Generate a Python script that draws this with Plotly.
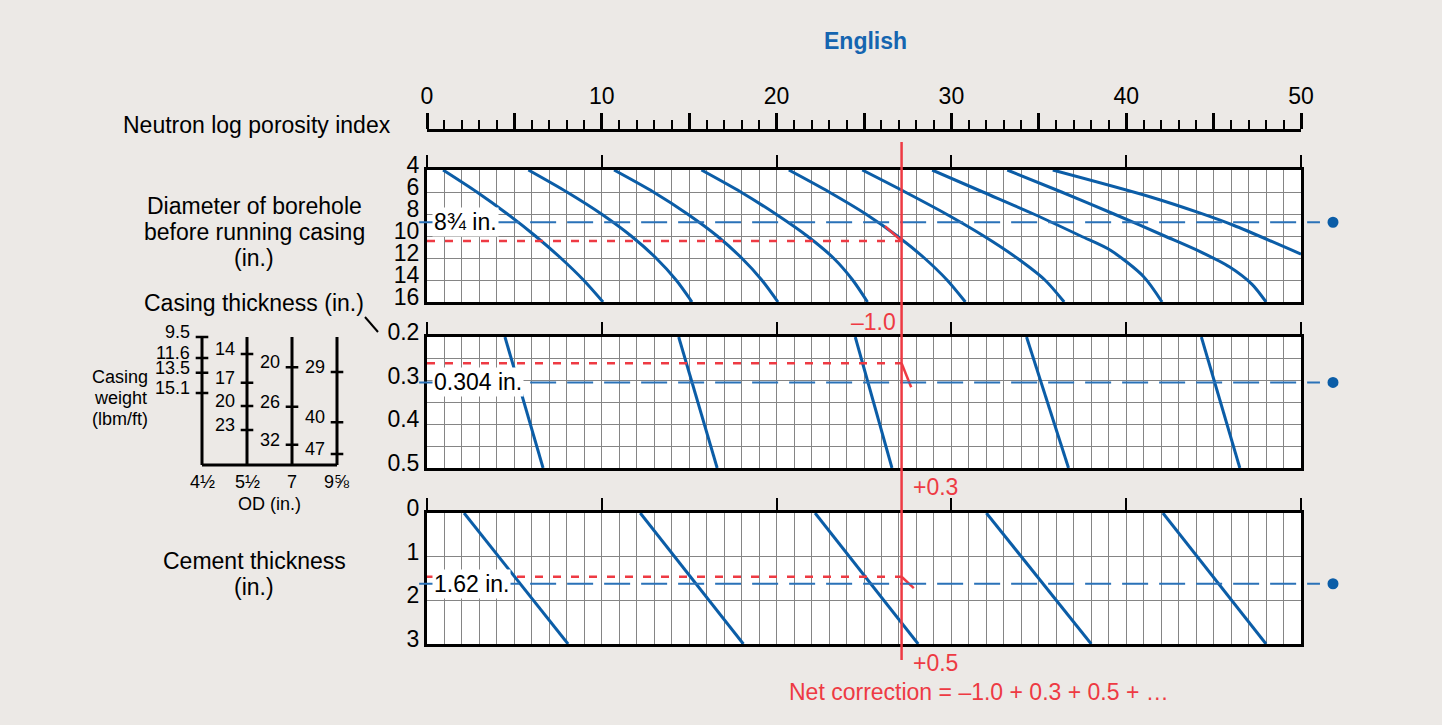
import plotly.graph_objects as go

# ---------------- data ----------------
top_tickvals = [0, 5, 10, 15, 20, 25, 30, 35, 40, 45, 50]
top_ticktext = ['0', '', '10', '', '20', '', '30', '', '40', '', '50']

diameter_ticks = [4, 6, 8, 10, 12, 14, 16]
thickness_ticks = [0.2, 0.25, 0.3, 0.35, 0.4, 0.45, 0.5]
thickness_text = ['0.2', '', '0.3', '', '0.4', '', '0.5']
cement_ticks = [0, 1, 2, 3]

# borehole-diameter chart: porosity index (x) vs borehole diameter in. (y)
bh_x = [
    [0.92, 2.85, 4.6, 6.2, 7.65, 8.95, 10.07],
    [5.8, 8.0, 9.98, 11.68, 13.1, 14.25, 15.16],
    [10.7, 12.95, 14.9, 16.6, 18.0, 19.15, 20.08],
    [15.7, 17.95, 19.95, 21.75, 23.25, 24.35, 25.2],
    [20.7, 23.0, 25.1, 26.9, 28.45, 29.75, 30.8],
    [24.9, 27.35, 29.7, 31.85, 33.75, 35.35, 36.45],
    [28.9, 31.8, 34.7, 37.4, 39.1, 41.0, 42.05],
    [33.2, 36.3, 39.3, 42.2, 44.2, 45.9, 47.2, 48.0],
    [35.8, 41.4, 44.2, 46.1, 50.0],
]
bh_y = [
    [4, 6, 8, 10, 12, 14, 16],
    [4, 6, 8, 10, 12, 14, 16],
    [4, 6, 8, 10, 12, 14, 16],
    [4, 6, 8, 10, 12, 14, 16],
    [4, 6, 8, 10, 12, 14, 16],
    [4, 6, 8, 10, 12, 14, 16],
    [4, 6, 8, 10, 11.3, 13.7, 16],
    [4, 6, 8, 10, 11.4, 12.8, 14.4, 16],
    [4, 6.45, 7.9, 9.0, 11.65],
]

# casing-thickness chart: porosity at 0.2 in. (top) and 0.5 in. (bottom)
thk_top_x = [4.46, 14.4, 24.5, 34.3, 44.3]
thk_bot_x = [6.64, 16.6, 26.6, 36.7, 46.5]
thk_range = [0.2, 0.5]

# cement-thickness chart: porosity at 0 in. (top) and 3 in. (bottom)
cem_top_x = [2.12, 12.2, 22.2, 32.0, 42.1]
cem_bot_x = [8.07, 18.1, 28.1, 38.0, 48.0]
cem_range = [0, 3]

# example entries
bh_value, bh_label = 8.75, '8¾ in.'
thk_value, thk_label = 0.304, '0.304 in.'
cem_value, cem_label = 1.62, '1.62 in.'
porosity_read = 27.15
red_levels = [10.45, 0.26, 1.46]
red_diag_x = [[26.2, 27.15], [27.15, 27.7], [27.15, 27.85]]
red_diag_y = [[9.1, 10.45], [0.26, 0.315], [1.46, 1.72]]
corrections = ['–1.0', '+0.3', '+0.5']
net_text = 'Net correction = –1.0 + 0.3 + 0.5 + …'

# casing weight inset (shares casing-thickness scale)
od_labels = ['4½', '5½', '7', '9⅝']
od_pos = [0, 1, 2, 3]
casing_weights = [['9.5', '11.6', '13.5', '15.1'], ['14', '17', '20', '23'],
                  ['20', '26', '32'], ['29', '40', '47']]
casing_wall = [[0.2, 0.248, 0.282, 0.328], [0.239, 0.305, 0.358, 0.413],
               [0.269, 0.360, 0.447], [0.280, 0.395, 0.468]]
inset_bottom = 0.493

# ---------------- style ----------------
FONT = 'Liberation Sans, Arial, Helvetica, sans-serif'
BG = '#ECE9E6'
BLUE = '#0B5DA7'
DBLUE = '#2A72B8'
RED = '#EE3A43'
GRID = '#858585'
W, H = 1442, 725


def py(p):
    return 1 - p / H


def px(p):
    return p / W


XDOM = [px(427), px(1301)]
YDOMS = [[py(302), py(170)], [py(468), py(337)], [py(644), py(513)]]

fig = go.Figure()

for xs, ys in zip(bh_x, bh_y):
    fig.add_trace(go.Scatter(x=xs, y=ys, mode='lines', xaxis='x', yaxis='y',
                             line=dict(color=BLUE, width=3, shape='spline', smoothing=0.8),
                             hoverinfo='skip', showlegend=False))
for a, b in zip(thk_top_x, thk_bot_x):
    fig.add_trace(go.Scatter(x=[a, b], y=thk_range, mode='lines', xaxis='x2', yaxis='y2',
                             line=dict(color=BLUE, width=3), hoverinfo='skip', showlegend=False))
for a, b in zip(cem_top_x, cem_bot_x):
    fig.add_trace(go.Scatter(x=[a, b], y=cem_range, mode='lines', xaxis='x3', yaxis='y3',
                             line=dict(color=BLUE, width=3), hoverinfo='skip', showlegend=False))

axes_ids = [('x', 'y'), ('x2', 'y2'), ('x3', 'y3')]
for (xa, ya), lvl, dx, dy in zip(axes_ids, red_levels, red_diag_x, red_diag_y):
    fig.add_trace(go.Scatter(x=[0, porosity_read], y=[lvl, lvl], mode='lines', xaxis=xa, yaxis=ya,
                             line=dict(color=RED, width=2.5, dash='8px,10px'),
                             hoverinfo='skip', showlegend=False))
    fig.add_trace(go.Scatter(x=dx, y=dy, mode='lines', xaxis=xa, yaxis=ya,
                             line=dict(color=RED, width=2.5), hoverinfo='skip', showlegend=False))

fig.add_trace(go.Scatter(x=[], y=[], xaxis='x4', yaxis='y4', showlegend=False))

# casing weight inset
vx, vy = [], []
for p in od_pos:
    vx += [p, p, None]
    vy += [0.2, inset_bottom, None]
vx += [od_pos[0], od_pos[-1]]
vy += [inset_bottom, inset_bottom]
fig.add_trace(go.Scatter(x=vx, y=vy, mode='lines', xaxis='x5', yaxis='y5',
                         line=dict(color='black', width=3), hoverinfo='skip', showlegend=False))
tx, ty = [], []
for p, walls in zip(od_pos, casing_wall):
    for wv in walls:
        tx += [p - 0.14, p + 0.14, None]
        ty += [wv, wv, None]
fig.add_trace(go.Scatter(x=tx, y=ty, mode='lines', xaxis='x5', yaxis='y5',
                         line=dict(color='black', width=2.5), hoverinfo='skip', showlegend=False))


def note(**kw):
    d = dict(showarrow=False, xanchor='center', yanchor='middle')
    d.update(kw)
    return d


ann = []
for p, ws, walls in zip(od_pos, casing_weights, casing_wall):
    for wt, wv in zip(ws, walls):
        ann.append(note(x=p, y=wv, xref='x5', yref='y5', text=wt, xanchor='right',
                        xshift=-10, yshift=5, font=dict(size=18)))
for p, lab in zip(od_pos, od_labels):
    ann.append(note(x=p, y=py(482), xref='x5', yref='paper', text=lab, font=dict(size=18)))
ann.append(note(x=1.5, y=py(504), xref='x5', yref='paper', text='OD (in.)', font=dict(size=18)))
for t, yy in zip(['Casing', 'weight', '(lbm/ft)'], [377, 398, 419]):
    ann.append(note(x=px(120), y=py(yy), xref='paper', yref='paper', text=t, font=dict(size=18)))

for t, yy in [('Diameter of borehole', 206), ('before running casing', 232), ('(in.)', 258),
              ('Casing thickness (in.)', 303), ('Cement thickness', 561), ('(in.)', 587)]:
    ann.append(note(x=px(254), y=py(yy), xref='paper', yref='paper', text=t, font=dict(size=23)))
ann.append(note(x=px(393), y=py(125), xref='paper', yref='paper', text='Neutron log porosity index',
                xanchor='right', font=dict(size=23)))
ann.append(note(x=px(866), y=py(41), xref='paper', yref='paper', text='<b>English</b>',
                font=dict(size=23, color='#1565B0')))

for (xa, ya), val, lab in zip(axes_ids, [bh_value, thk_value, cem_value], [bh_label, thk_label, cem_label]):
    ann.append(note(x=0, y=val, xref=xa, yref=ya, text=lab, xanchor='left',
                    xshift=5, bgcolor='white', borderpad=1, font=dict(size=23)))

ann.append(note(x=porosity_read, y=py(322), xref='x', yref='paper', text=corrections[0],
                xanchor='right', xshift=-4, font=dict(size=23, color=RED)))
ann.append(note(x=porosity_read, y=py(487), xref='x', yref='paper', text=corrections[1],
                xanchor='left', xshift=9, font=dict(size=23, color=RED)))
ann.append(note(x=porosity_read, y=py(663), xref='x', yref='paper', text=corrections[2],
                xanchor='left', xshift=9, font=dict(size=23, color=RED)))
ann.append(note(x=px(979), y=py(692), xref='paper', yref='paper', text=net_text,
                font=dict(size=23, color=RED)))

shapes = []
for xa, ya in axes_ids:
    shapes.append(dict(type='rect', xref=xa + ' domain', yref=ya + ' domain', x0=0, x1=1, y0=0, y1=1,
                       fillcolor='white', line=dict(width=0), layer='below'))
for (xa, ya), val in zip(axes_ids, [bh_value, thk_value, cem_value]):
    shapes.append(dict(type='line', xref=xa + ' domain', yref=ya, x0=-0.009, x1=1.0217, y0=val, y1=val,
                       line=dict(color=DBLUE, width=2, dash='26px,11px')))
    shapes.append(dict(type='circle', xref=xa + ' domain', yref=ya, xsizemode='pixel', ysizemode='pixel',
                       xanchor=1.0366, yanchor=val, x0=-5.5, x1=5.5, y0=-5.5, y1=5.5,
                       fillcolor=BLUE, line=dict(width=0)))
shapes.append(dict(type='line', xref='x', yref='paper', x0=porosity_read, x1=porosity_read,
                   y0=py(660), y1=py(142), line=dict(color=RED, width=2.5)))
shapes.append(dict(type='line', xref='paper', yref='paper', x0=px(365), y0=py(317), x1=px(378), y1=py(332),
                   line=dict(color='black', width=2)))

layout = dict(
    template='none',
    width=W, height=H, margin=dict(l=0, r=0, t=0, b=0, pad=0, autoexpand=False), autosize=False,
    paper_bgcolor=BG, plot_bgcolor=BG, showlegend=False,
    font=dict(family=FONT, size=23, color='black'),
    annotations=ann, shapes=shapes,
)

panel_y = [
    dict(range=[16, 4], tickvals=diameter_ticks, ticktext=[str(v) for v in diameter_ticks]),
    dict(range=[0.5, 0.2], tickvals=thickness_ticks, ticktext=thickness_text),
    dict(range=[3, 0], tickvals=cement_ticks, ticktext=[str(v) for v in cement_ticks]),
]
for i, ((xa, ya), yd, yinfo) in enumerate(zip(axes_ids, YDOMS, panel_y)):
    xkey = 'xaxis' if i == 0 else 'xaxis%d' % (i + 1)
    ykey = 'yaxis' if i == 0 else 'yaxis%d' % (i + 1)
    layout[xkey] = dict(domain=XDOM, range=[0, 50], anchor=ya, side='top', automargin=False,
                        showline=True, mirror=True, linewidth=3, linecolor='black',
                        tickmode='linear', tick0=0, dtick=10, ticks='outside', ticklen=12,
                        tickwidth=2, tickcolor='black', showticklabels=False,
                        showgrid=True, gridcolor=GRID, gridwidth=1.3, zeroline=False,
                        minor=dict(dtick=1, tick0=0, showgrid=True, gridcolor=GRID, gridwidth=1.3),
                        fixedrange=True)
    layout[ykey] = dict(domain=yd, range=yinfo['range'], anchor=xa, tickmode='array', automargin=False,
                        tickvals=yinfo['tickvals'], ticktext=yinfo['ticktext'],
                        showline=True, mirror=True, linewidth=3, linecolor='black', ticks='',
                        showgrid=True, gridcolor=GRID, gridwidth=1.3, zeroline=False,
                        tickfont=dict(size=23), ticklabelshift=5, fixedrange=True)

layout['xaxis4'] = dict(domain=XDOM, range=[0, 50], anchor='y4', side='top', showline=True,
                        automargin=False,
                        linewidth=3, linecolor='black', tickmode='array', tickvals=top_tickvals,
                        ticktext=top_ticktext, ticks='outside', ticklen=16, tickwidth=2.5,
                        tickcolor='black', showgrid=False, zeroline=False, tickfont=dict(size=23),
                        minor=dict(tickmode='linear', tick0=0, dtick=1, ticks='outside', ticklen=9,
                                   tickwidth=2, tickcolor='black', showgrid=False),
                        fixedrange=True)
layout['yaxis4'] = dict(domain=[py(140), py(132)], range=[0, 1], anchor='x4', visible=False,
                        automargin=False, fixedrange=True)
layout['xaxis5'] = dict(domain=[px(188.5), px(350.5)], range=[-0.3, 3.3], anchor='y5',
                        automargin=False, visible=False, fixedrange=True)
layout['yaxis5'] = dict(domain=[py(476.7), py(328.3)], range=[0.52, 0.18], anchor='x5',
                        automargin=False, visible=False, fixedrange=True)

fig.update_layout(**layout)
fig.write_html('out.html', config={'displayModeBar': False, 'responsive': False},
               post_script="document.body.style.margin='0';document.body.style.overflow='hidden';"
                           "document.documentElement.style.overflow='hidden';")
